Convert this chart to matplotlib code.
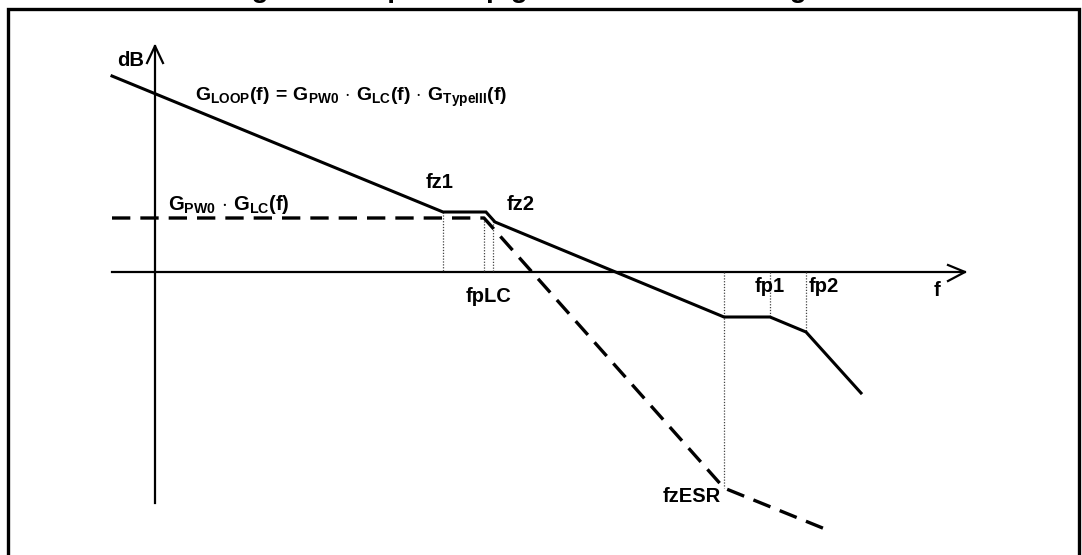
import matplotlib.pyplot as plt

plt.rcParams["font.family"] = ["Liberation Sans", "DejaVu Sans"]
plt.rcParams["font.weight"] = "bold"
plt.rcParams["mathtext.fontset"] = "custom"
plt.rcParams["mathtext.rm"] = "Liberation Sans:bold"
plt.rcParams["mathtext.it"] = "Liberation Sans:bold"
plt.rcParams["mathtext.bf"] = "Liberation Sans:bold"
plt.rcParams["mathtext.sf"] = "Liberation Sans:bold"

W, H = 1082, 555

# asymptotic Bode curves, in picture units (x = log f, y = -dB)
loop_x = [112, 443, 486, 495, 724, 770, 806, 861]
loop_y = [76, 212, 212, 222, 317, 317, 332, 393]
pwlc_x = [112, 484, 724, 830]
pwlc_y = [218, 218, 488, 531]

# corner frequencies: marker x, top and bottom of the dotted guide
corner_names = ["fz1", "fpLC", "fz2", "fzESR", "fp1", "fp2"]
corner_x = [443, 484, 493, 724, 770, 806]
guide_top = [212, 218, 221, 272, 272, 272]
guide_bot = [272, 272, 272, 488, 317, 332]
label_x = [440, 488, 521, 692, 770, 824]
label_y = [183, 296, 204, 497, 287, 287]

# axes of the diagram
f_axis_x = [112, 965]
f_axis_y = 272
db_axis_x = 155
db_axis_y = [503, 46]
f_head_x = [948, 965, 948]
f_head_y = [265, 272, 281]
db_head_x = [147, 155, 163]
db_head_y = [63, 46, 63]

fig = plt.figure(figsize=(W / 100, H / 100), dpi=100)
ax = fig.add_axes([0, 0, 1, 1])
ax.set_xlim(0, W)
ax.set_ylim(H, 0)
ax.axis("off")

# frame (bottom edge is cut off)
ax.plot([8, 8, 1079, 1079], [H + 5, 9, 9, H + 5], color="black", lw=2.4,
        solid_joinstyle="miter", clip_on=False)

# caption, cut off at the top: only the descenders show
ax.text(227, 3, "Figure 10. Open loop gain and its Bode diagram",
        fontsize=20, fontweight="bold", ha="left", va="bottom", clip_on=False)

# axes
ax.plot(f_axis_x, [f_axis_y, f_axis_y], color="black", lw=1.6)
ax.plot([db_axis_x, db_axis_x], db_axis_y, color="black", lw=1.6)
ax.plot(f_head_x, f_head_y, color="black", lw=1.6)
ax.plot(db_head_x, db_head_y, color="black", lw=1.6)
ax.text(937, 291, "f", fontsize=14.5, ha="center", va="center")
ax.text(131, 60, "dB", fontsize=14.5, ha="center", va="center")

# dotted guides
for x, y0, y1 in zip(corner_x, guide_top, guide_bot):
    ax.plot([x, x], [y0, y1], color="#444444", lw=0.9, ls=(0, (1, 1.3)))

# curves
ax.plot(pwlc_x, pwlc_y, color="black", lw=2.4, ls=(0, (5.5, 3)),
        dash_capstyle="butt")
ax.plot(loop_x, loop_y, color="black", lw=2.2, solid_joinstyle="miter")

for name, x, y in zip(corner_names, label_x, label_y):
    ax.text(x, y, name, fontsize=14.5, ha="center", va="center")

ax.text(195, 97,
        r"$G_{LOOP}(f)\,=\,G_{PW0}\,\cdot\,G_{LC}(f)\,\cdot\,G_{TypeIII}(f)$",
        fontsize=14, ha="left", va="center")
ax.text(168, 205, r"$G_{PW0}\,\cdot\,G_{LC}(f)$", fontsize=14.5,
        ha="left", va="center")

fig.savefig("out.png", dpi=100)
